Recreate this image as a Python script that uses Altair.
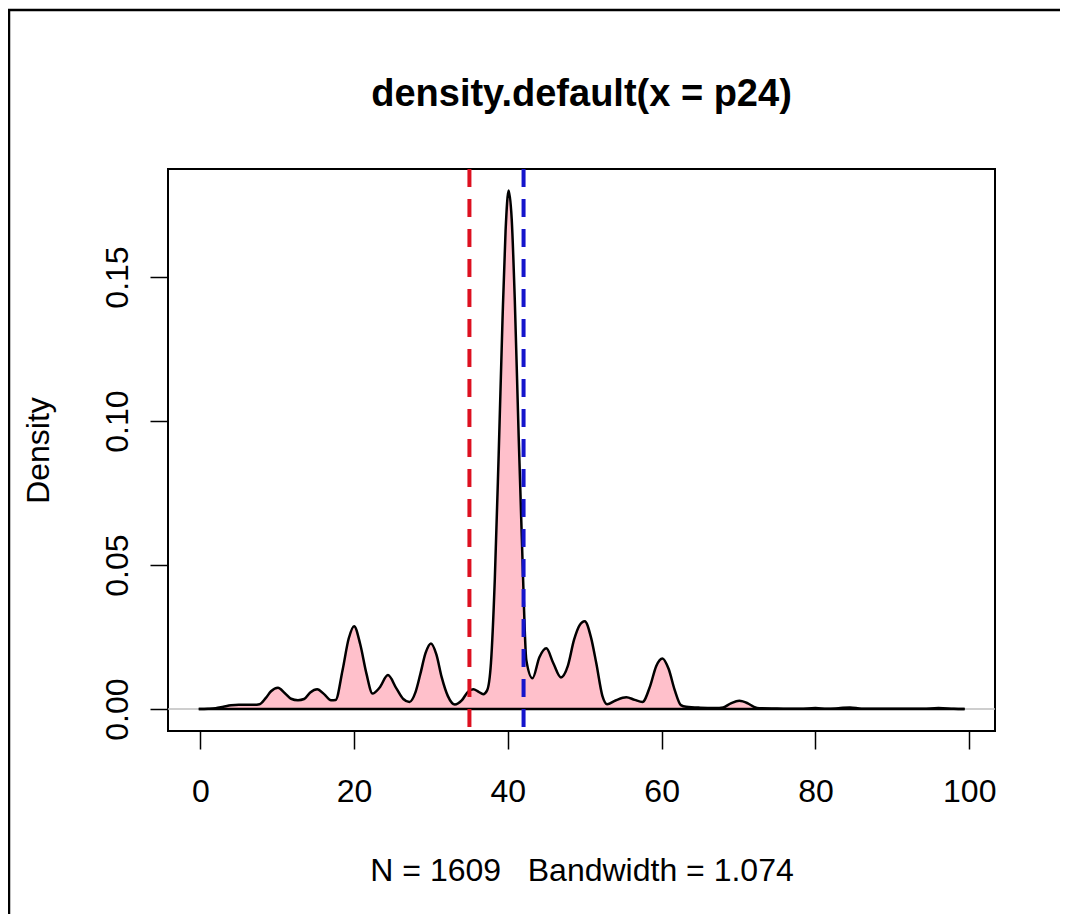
import altair as alt
import pandas as pd

# ---- data ----
dens_x = [-0.2, 1.0, 2.0, 3.0, 4.0, 5.0, 6.0, 7.0, 7.7, 8.5, 9.2, 10.1, 11.0, 11.8,
          12.7, 13.5, 14.3, 15.2, 16.1, 17.0, 17.6, 18.5, 19.3, 20.0, 20.8, 21.6,
          22.4, 23.3, 24.4, 25.5, 26.4, 27.2, 28.0, 28.6, 29.3, 30.0, 30.7, 31.4,
          32.2, 33.1, 34.0, 34.8, 35.5, 36.2, 36.8, 37.3, 37.8, 38.3, 38.8, 39.3,
          39.7, 40.1, 40.5, 40.9, 41.4, 41.9, 42.4, 43.2, 44.1, 45.0, 45.9, 46.9,
          47.8, 48.6, 49.3, 50.0, 50.8, 51.5, 52.3, 52.9, 54.0, 55.4, 56.5, 57.5,
          58.5, 59.3, 60.1, 60.9, 61.7, 62.5, 63.2, 65.0, 67.0, 68.0, 69.0, 70.1,
          71.2, 72.0, 72.7, 75.0, 78.0, 80.0, 81.5, 83.0, 84.5, 86.0, 90.0, 94.0,
          96.0, 98.0, 99.4]
dens_y = [0.0, 0.0001, 0.0003, 0.0008, 0.0013, 0.0015, 0.0015, 0.0015, 0.0017, 0.0038,
          0.0062, 0.0074, 0.0055, 0.0036, 0.0031, 0.0035, 0.0058, 0.0069, 0.0052,
          0.0031, 0.0032, 0.0135, 0.0245, 0.0288, 0.0225, 0.0124, 0.0054, 0.0074,
          0.0118, 0.0072, 0.0035, 0.0025, 0.0060, 0.0120, 0.0195, 0.0228, 0.0190,
          0.0110, 0.0045, 0.0016, 0.0030, 0.0060, 0.0069, 0.0060, 0.0052, 0.0065,
          0.0160, 0.0450, 0.0880, 0.1350, 0.1660, 0.1800, 0.1700, 0.1420, 0.0950,
          0.0520, 0.0170, 0.0107, 0.0180, 0.0211, 0.0160, 0.0110, 0.0150, 0.0240,
          0.0290, 0.0305, 0.0250, 0.0159, 0.0045, 0.0017, 0.0030, 0.0041, 0.0032,
          0.0025, 0.0080, 0.0150, 0.0176, 0.0140, 0.0066, 0.0014, 0.0008, 0.0005,
          0.0004, 0.0006, 0.0020, 0.0029, 0.0020, 0.0008, 0.0003, 0.0002, 0.0001,
          0.0004, 0.0001, 0.0003, 0.0006, 0.0001, 0.0001, 0.0001, 0.0004, 0.0001,
          0.0]
median_x = [35.0]
mean_x = [42.04]
x_ticks = [0, 20, 40, 60, 80, 100]
y_ticks = [0.00, 0.05, 0.10, 0.15]
title_text = "density.default(x = p24)"
x_title = "N = 1609\u00a0\u00a0 Bandwidth = 1.074"
y_title = "Density"

FONT = "Liberation Sans"

dens = pd.DataFrame({"x": dens_x, "y": dens_y})
zero = pd.DataFrame({"y": [0.0]})
base_line = pd.DataFrame({"x": [dens_x[0]], "x2": [dens_x[-1]], "y": [0.0]})
med = pd.DataFrame({"x": median_x})
mean = pd.DataFrame({"x": mean_x})
one = pd.DataFrame({"a": [0]})

xs = alt.Scale(domain=[-4.2, 103.35], nice=False, zero=False)
ys = alt.Scale(domain=[-0.0076, 0.1875], nice=False, zero=False)

x_axis = alt.Axis(values=x_ticks, format="d", grid=False, domain=False,
                  tickSize=18, tickWidth=1.5, tickColor="black",
                  labelFontSize=32, labelFont=FONT, labelColor="black",
                  labelPadding=27, labelFlush=False,
                  title=x_title, titleFont=FONT, titleFontSize=32,
                  titleFontWeight="normal", titleColor="black",
                  titleX=413.5, titleY=149, titleBaseline="alphabetic",
                  titleAlign="center")
y_axis = alt.Axis(values=y_ticks, format=".2f", grid=False, domain=False,
                  tickSize=18, tickWidth=1.5, tickColor="black",
                  labelFontSize=32, labelFont=FONT, labelColor="black",
                  labelAngle=270, labelAlign="center", labelBaseline="alphabetic",
                  labelPadding=23, labelFlush=False,
                  title=y_title, titleFont=FONT, titleFontSize=32,
                  titleFontWeight="normal", titleColor="black",
                  titleAngle=270, titleX=-120, titleY=281,
                  titleBaseline="alphabetic", titleAlign="center")

zero_rule = alt.Chart(zero).mark_rule(color="#BEBEBE", strokeWidth=1.5).encode(
    y=alt.Y("y:Q", scale=ys, axis=y_axis)
)

area = alt.Chart(dens).mark_area(color="#FFC0CB", interpolate="monotone").encode(
    x=alt.X("x:Q", scale=xs, axis=x_axis),
    y=alt.Y("y:Q", scale=ys),
)

line = alt.Chart(dens).mark_line(color="black", strokeWidth=2.5, interpolate="monotone").encode(
    x=alt.X("x:Q", scale=xs),
    y=alt.Y("y:Q", scale=ys),
)

bottom = alt.Chart(base_line).mark_rule(color="black", strokeWidth=2.5).encode(
    x=alt.X("x:Q", scale=xs), x2="x2:Q", y=alt.Y("y:Q", scale=ys)
)

red = alt.Chart(med).mark_rule(color="#DD1020", strokeWidth=4, strokeDash=[18, 12]).encode(
    x=alt.X("x:Q", scale=xs)
)
blue = alt.Chart(mean).mark_rule(color="#1515CC", strokeWidth=4, strokeDash=[18, 12]).encode(
    x=alt.X("x:Q", scale=xs)
)

title = alt.Chart(one).mark_text(font=FONT, fontSize=38, fontWeight="bold",
                                 color="black", align="center",
                                 baseline="alphabetic").encode(
    text=alt.value(title_text), x=alt.value(413.5), y=alt.value(-63)
)

# outer figure frame: only the top and left edges are visible in the picture
frame_top = alt.Chart(one).mark_rule(color="black", strokeWidth=2.5).encode(
    x=alt.value(-160), x2=alt.value(1000), y=alt.value(-159)
)
frame_left = alt.Chart(one).mark_rule(color="black", strokeWidth=2.5).encode(
    x=alt.value(-159), y=alt.value(-160), y2=alt.value(1000)
)

chart = alt.layer(zero_rule, area, line, bottom, red, blue, title,
                  frame_top, frame_left).properties(
    width=827, height=562,
    padding={"left": 160, "top": 161, "right": 65, "bottom": 183},
    autosize=alt.AutoSizeParams(type="none"),
    background="white",
).configure_view(stroke="black", strokeWidth=2)

chart.save("out.html", embed_options={"renderer": "svg", "actions": False})
